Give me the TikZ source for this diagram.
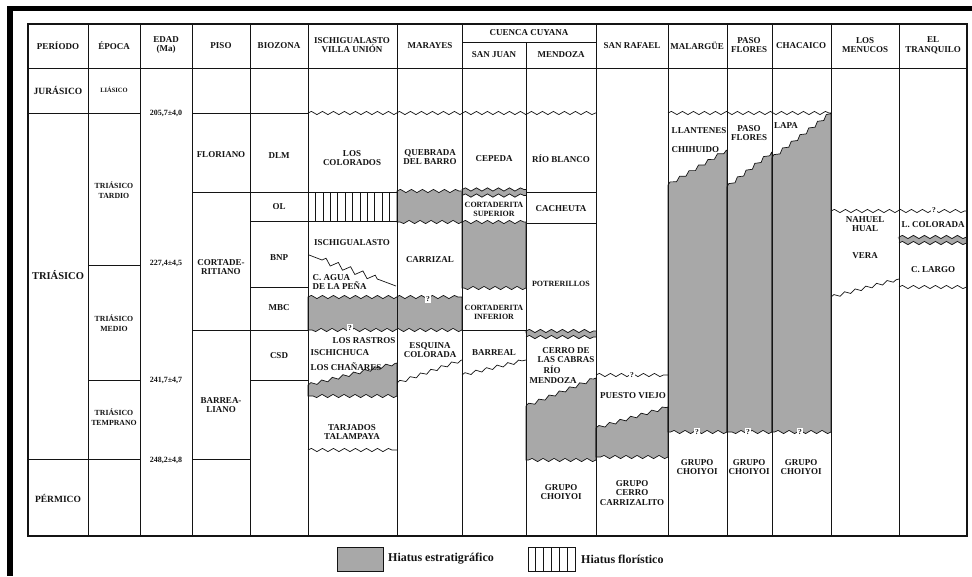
\documentclass[tikz,border=0pt]{standalone}
\usepackage{fontspec}
\setmainfont{Liberation Serif}
\usetikzlibrary{decorations.pathmorphing}
\definecolor{hgray}{RGB}{168,168,168}
\definecolor{ink}{RGB}{20,20,20}
\begin{document}
\begin{tikzpicture}[x=1pt,y=-1pt,
  lbl/.style={font=\fontsize{9}{9.8}\selectfont\bfseries, align=center, inner sep=0.5pt, text=ink},
  lbltight/.style={lbl, font=\fontsize{8}{9.2}\selectfont\bfseries},
  lblsmall/.style={lbl, font=\fontsize{7.8}{9.5}\selectfont\bfseries},
  lbltiny/.style={lbl, font=\fontsize{6.5}{7}\selectfont\bfseries},
  lblbig/.style={lbl, font=\fontsize{9.5}{10}\selectfont\bfseries},
  agelbl/.style={lbl, font=\fontsize{8}{9}\selectfont\bfseries},
  qmark/.style={lbl, font=\fontsize{7.5}{8}\selectfont\bfseries, fill=white, inner sep=1.2pt},
  gridline/.style={draw=ink, line width=0.7pt},
  frameline/.style={draw=ink, line width=1.1pt},
  wv/.style={decoration={snake, amplitude=1.6pt, segment length=11pt}},
  wavy/.style={gridline, decorate, wv},
  hiatus/.style={fill=hgray, draw=ink, line width=0.7pt},
  band/.style={draw=hgray, line width=6pt, decorate, wv},
  legtext/.style={font=\fontsize{12}{13}\selectfont\bfseries, text=ink, inner sep=0pt, anchor=west},
]
\useasboundingbox (0,0) rectangle (972,576);
\fill[white] (0,0) rectangle (972,576);
% scan border
\fill[black] (7,6) rectangle (972,11);
\fill[black] (7,6) rectangle (13,576);

% ---- hiatus fills ----
\filldraw[hiatus] (397,191) decorate[wv]{-- (462,191)} -- (462,222) decorate[wv]{-- (397,222)} -- cycle;
\filldraw[hiatus] (308,297) decorate[wv]{-- (462,297)} -- (462,330) decorate[wv]{-- (308,330)} -- cycle;
\filldraw[hiatus] (462,222) decorate[wv]{-- (526,222)} -- (526,288) decorate[wv]{-- (462,288)} -- cycle;
\filldraw[hiatus] (308,385) decorate[wv]{-- (397,363)} -- (397,396) decorate[wv]{-- (308,396)} -- cycle;
\filldraw[hiatus] (526,406) decorate[wv]{-- (596,378)} -- (596,460) decorate[wv]{-- (526,460)} -- cycle;
\filldraw[hiatus] (596,428) decorate[wv]{-- (668,407)} -- (668,457) decorate[wv]{-- (596,457)} -- cycle;
\filldraw[hiatus] (668,185) decorate[wv]{-- (727,150)} -- (727,432) decorate[wv]{-- (668,432)} -- cycle;
\filldraw[hiatus] (727,187) decorate[wv]{-- (772,152)} -- (772,432) decorate[wv]{-- (727,432)} -- cycle;
\filldraw[hiatus] (772,158) decorate[wv]{-- (831,113)} -- (831,432) decorate[wv]{-- (772,432)} -- cycle;

% thin hiatus bands
\draw[band] (462,192.5) -- (526,192.5);
\draw[wavy] (462,189.5) -- (526,189.5);
\draw[wavy] (462,195.5) -- (526,195.5);
\draw[band] (526,334) -- (596,334);
\draw[wavy] (526,331) -- (596,331);
\draw[wavy] (526,337) -- (596,337);
\draw[band] (899,240) -- (967,240);
\draw[wavy] (899,237) -- (967,237);
\draw[wavy] (899,243) -- (967,243);

% floristic hiatus hatch
\foreach \k in {1,...,11} \draw[gridline, line width=0.6pt] ({308+7.42*\k},192) -- ({308+7.42*\k},221);

% ---- grid ----
\draw[gridline] (28,68) -- (967,68);
\foreach \x in {88,140,192,250,308,397,462,596,668,727,772,831,899} \draw[gridline] (\x,24) -- (\x,536);
\draw[gridline] (526,42) -- (526,536);
\draw[gridline] (462,42) -- (596,42);
\draw[gridline] (28,113) -- (140,113);
\draw[gridline] (192,113) -- (308,113);
\draw[gridline] (88,265) -- (140,265);
\draw[gridline] (88,380) -- (140,380);
\draw[gridline] (28,459) -- (140,459);
\draw[gridline] (192,459) -- (250,459);
\draw[gridline] (192,192) -- (397,192);
\draw[gridline] (526,192) -- (596,192);
\draw[gridline] (250,221) -- (397,221);
\draw[gridline] (526,223) -- (596,223);
\draw[gridline] (250,287) -- (308,287);
\draw[gridline] (192,330) -- (308,330);
\draw[gridline] (462,330) -- (526,330);
\draw[gridline] (250,380) -- (308,380);
\draw[frameline] (28,24) rectangle (967,536);

% ---- unconformities ----
\draw[wavy] (308,113) -- (596,113);
\draw[wavy] (668,113) -- (831,113);
\draw[wavy] (308,450) -- (397,450);
\draw[wavy] (397,383) -- (462,360);
\draw[wavy] (462,375) -- (526,360);
\draw[wavy] (596,375) -- (668,375);
\draw[wavy] (831,211) -- (967,211);
\draw[wavy] (831,297) -- (899,279);
\draw[wavy] (899,287) -- (967,287);
% interfingering
\draw[gridline] (309,255) -- (322,260) decorate[decoration={zigzag, amplitude=3pt, segment length=13pt}]{-- (380,280)} -- (396,286);

% ---- header ----
\node[lbl] (hPer) at (58,46) {PERÍODO};
\node[lbl] (hEpo) at (114,46) {ÉPOCA};
\node[lbl] (hEdad) at (166,45) {EDAD\\(Ma)};
\node[lbl] (hPiso) at (221,46) {PISO};
\node[lbl] (hBio) at (279,46) {BIOZONA};
\node[lbl] (hIsc) at (352,45) {ISCHIGUALASTO\\VILLA UNIÓN};
\node[lbl] (hMar) at (430,46) {MARAYES};
\node[lbl] (hCue) at (529,33) {CUENCA CUYANA};
\node[lbl] (hSJ) at (494,55) {SAN JUAN};
\node[lbl] (hMen) at (561,55) {MENDOZA};
\node[lbl] (hSR) at (632,46) {SAN RAFAEL};
\node[lbl] (hMal) at (697,46) {MALARGÜE};
\node[lbl] (hPF) at (749,45) {PASO\\FLORES};
\node[lbl] (hCha) at (801,46) {CHACAICO};
\node[lbl] (hLM) at (865,45) {LOS\\MENUCOS};
\node[lbl] (hET) at (933,45) {EL\\TRANQUILO};

% ---- periods / epochs ----
\node[lblbig] (jur) at (58,90) {JURÁSICO};
\node[lbltiny] (lias) at (114,90) {LIÁSICO};
\node[lbl, font=\fontsize{10.5}{11}\selectfont\bfseries] (tri) at (58,275) {TRIÁSICO};
\node[lblbig] (perm) at (58,498) {PÉRMICO};
\node[lblsmall] (tt) at (114,190) {TRIÁSICO\\TARDIO};
\node[lblsmall] (tm) at (114,323) {TRIÁSICO\\MEDIO};
\node[lblsmall] (tte) at (114,417) {TRIÁSICO\\TEMPRANO};

% ---- ages ----
\node[agelbl] (a1) at (166,113) {205,7±4,0};
\node[agelbl] (a2) at (166,263) {227,4±4,5};
\node[agelbl] (a3) at (166,380) {241,7±4,7};
\node[agelbl] (a4) at (166,460) {248,2±4,8};

% ---- stages / biozones ----
\node[lbl] (flo) at (221,155) {FLORIANO};
\node[lbl] (cort) at (221,267) {CORTADE-\\RITIANO};
\node[lbl] (barr) at (221,405) {BARREA-\\LIANO};
\node[lbl] (dlm) at (279,156) {DLM};
\node[lbl] (ol) at (279,207) {OL};
\node[lbl] (bnp) at (279,258) {BNP};
\node[lbl] (mbc) at (279,308) {MBC};
\node[lbl] (csd) at (279,356) {CSD};

% ---- Ischigualasto ----
\node[lbl] (lcol) at (352,158) {LOS\\COLORADOS};
\node[lbl] (isch) at (352,243) {ISCHIGUALASTO};
\node[lbl, anchor=west, align=left] (cagua) at (312,282) {C. AGUA\\DE LA PEÑA};
\node[lbl, anchor=east] (lras) at (396,341) {LOS RASTROS};
\node[lbl, anchor=west] (ichu) at (310,353) {ISCHICHUCA};
\node[lbl, anchor=west] (lcha) at (310,367) {LOS CHAÑARES};
\node[lbl] (tarj) at (352,432) {TARJADOS\\TALAMPAYA};
\node[qmark] (q1) at (350,328) {?};

% ---- Marayes ----
\node[lbl] (qbar) at (430,157) {QUEBRADA\\DEL BARRO};
\node[lbl] (carr) at (430,260) {CARRIZAL};
\node[lbl] (esq) at (430,350) {ESQUINA\\COLORADA};
\node[qmark] (q2) at (428,299) {?};

% ---- San Juan ----
\node[lbl] (cep) at (494,159) {CEPEDA};
\node[lbltight] (csup) at (494,209) {CORTADERITA\\SUPERIOR};
\node[lbltight] (cinf) at (494,312) {CORTADERITA\\INFERIOR};
\node[lbl] (barrl) at (494,353) {BARREAL};

% ---- Mendoza ----
\node[lbl] (rbl) at (561,159) {RÍO BLANCO};
\node[lbl] (cach) at (561,209) {CACHEUTA};
\node[lbltight] (potr) at (561,284) {POTRERILLOS};
\node[lbl] (cerro) at (566,355) {CERRO DE\\LAS CABRAS};
\node[lbl] (rio) at (552,370) {RÍO};
\node[lbl] (mdz) at (553,381) {MENDOZA};
\node[lbl] (gc1) at (561,492) {GRUPO\\CHOIYOI};

% ---- San Rafael ----
\node[qmark] (q3) at (632,375) {?};
\node[lbl] (pvie) at (633,396) {PUESTO VIEJO};
\node[lbl] (gcc) at (632,493) {GRUPO\\CERRO\\CARRIZALITO};

% ---- Malargüe / Paso Flores / Chacaico ----
\node[lbl] (llan) at (699,131) {LLANTENES};
\node[lbl, anchor=west] (chih) at (671,150) {CHIHUIDO};
\node[lbl] (pfl) at (749,133) {PASO\\FLORES};
\node[lbl] (lapa) at (786,126) {LAPA};
\node[qmark] (q4) at (697,432) {?};
\node[qmark] (q5) at (748,432) {?};
\node[qmark] (q6) at (800,432) {?};
\node[lbl] (gc2) at (697,467) {GRUPO\\CHOIYOI};
\node[lbl] (gc3) at (749,467) {GRUPO\\CHOIYOI};
\node[lbl] (gc4) at (801,467) {GRUPO\\CHOIYOI};

% ---- Los Menucos / El Tranquilo ----
\node[lbl] (nah) at (865,224) {NAHUEL\\HUAL};
\node[lbl] (vera) at (865,256) {VERA};
\node[qmark] (q7) at (934,210) {?};
\node[lbl] (lcolr) at (933,225) {L. COLORADA};
\node[lbl] (clar) at (933,270) {C. LARGO};

% ---- legend ----
\filldraw[hiatus] (337,547) rectangle (383,571);
\node[legtext] (lg1) at (388,559) {Hiatus estratigráfico};
\draw[gridline] (528,547) rectangle (575,571);
\foreach \k in {1,...,5} \draw[gridline] ({528+7.83*\k},547) -- ({528+7.83*\k},571);
\node[legtext] (lg2) at (581,559) {Hiatus florístico};
\end{tikzpicture}
\end{document}
